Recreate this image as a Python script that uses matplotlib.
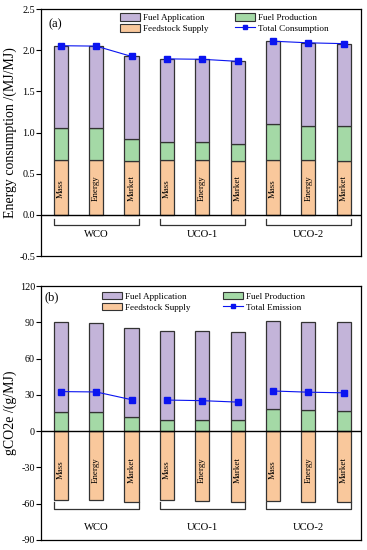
import numpy as np
import matplotlib
matplotlib.use('Agg')
import matplotlib.pyplot as plt
from matplotlib.patches import Patch
from matplotlib.lines import Line2D

plt.rcParams['font.family'] = ['Liberation Serif', 'DejaVu Serif']

groups = ['WCO', 'UCO-1', 'UCO-2']
methods = ['Mass', 'Energy', 'Market']

# (a) energy consumption, MJ/MJ
energy_feedstock = [0.665, 0.665, 0.65, 0.665, 0.665, 0.66, 0.665, 0.665, 0.66]
energy_production = [0.385, 0.385, 0.27, 0.225, 0.225, 0.205, 0.44, 0.42, 0.415]
energy_application = [1.005, 1.0, 1.005, 1.005, 1.0, 1.0, 1.005, 1.005, 1.005]

# (b) GHG emission, gCO2e/MJ
ghg_feedstock = [-57.3, -57.3, -59.0, -57.3, -57.8, -58.3, -57.8, -58.3, -58.3]
ghg_production = [16.2, 16.0, 11.8, 9.6, 9.4, 8.8, 17.9, 17.3, 16.5]
ghg_application = [73.8, 73.7, 73.2, 73.4, 73.6, 73.5, 73.1, 73.2, 73.5]

c_app = '#c3b4d9'
c_prod = '#a4d9a6'
c_feed = '#f9c89c'
edge = '#333333'
blue = '#0a14f0'

x = np.arange(1, 10)
w = 0.4

fig = plt.figure(figsize=(3.67, 5.5), dpi=100)
ax_a = fig.add_axes([0.1117, 0.5345, 0.872, 0.449])
ax_b = fig.add_axes([0.1117, 0.0182, 0.872, 0.4618])


def draw(ax, feed, prod, app, ylim, yticks, ylabel, tag, tag_pos, total_name,
         brk_y, brk_tick, lab_y, name_y, ticklabels, leg_pos, colsp):
    feed = np.array(feed)
    prod = np.array(prod)
    app = np.array(app)
    if feed[0] >= 0:
        ax.bar(x, feed, w, color=c_feed, edgecolor=edge, linewidth=0.9, zorder=2)
        ax.bar(x, prod, w, bottom=feed, color=c_prod, edgecolor=edge, linewidth=0.9, zorder=2)
        ax.bar(x, app, w, bottom=feed + prod, color=c_app, edgecolor=edge, linewidth=0.9, zorder=2)
    else:
        ax.bar(x, feed, w, color=c_feed, edgecolor=edge, linewidth=0.9, zorder=2)
        ax.bar(x, prod, w, color=c_prod, edgecolor=edge, linewidth=0.9, zorder=2)
        ax.bar(x, app, w, bottom=prod, color=c_app, edgecolor=edge, linewidth=0.9, zorder=2)
    total = feed + prod + app
    for g in range(3):
        s = slice(3 * g, 3 * g + 3)
        ax.plot(x[s], total[s], '-', color=blue, lw=0.8, marker='s',
                markersize=4.2, zorder=4)
    ax.axhline(0, color='black', lw=1.0, zorder=3)

    for i, xi in enumerate(x):
        ax.text(xi, lab_y, methods[i % 3], rotation=90, ha='center', va='center',
                fontsize=6.4, zorder=5)
    for g in range(3):
        x0 = x[3 * g] - w / 2
        x1 = x[3 * g + 2] + w / 2
        ax.plot([x0, x0, x1, x1], [brk_tick, brk_y, brk_y, brk_tick],
                color='#333333', lw=0.9, zorder=3)
        ax.text((x0 + x1) / 2, name_y, groups[g], ha='center', va='center',
                fontsize=7.7)

    ax.set_xlim(0.44, 9.49)
    ax.set_ylim(*ylim)
    ax.set_yticks(yticks)
    ax.set_yticklabels(ticklabels, fontsize=7.3)
    ax.set_xticks([])
    ax.tick_params(axis='y', direction='out', length=3.5, width=0.8, pad=0.8)
    for sp in ax.spines.values():
        sp.set_linewidth(0.9)
    ax.set_ylabel(ylabel, fontsize=10)
    ax.yaxis.set_label_coords(-0.075, 0.5)
    ax.text(tag_pos[0], tag_pos[1], tag, transform=ax.transAxes, fontsize=9,
            ha='left', va='center')

    handles = [Patch(facecolor=c_app, edgecolor=edge, linewidth=0.8),
               Patch(facecolor=c_feed, edgecolor=edge, linewidth=0.8),
               Patch(facecolor=c_prod, edgecolor=edge, linewidth=0.8),
               Line2D([0], [0], color=blue, lw=0.8, marker='s', markersize=3.5)]
    labels = ['Fuel Application', 'Feedstock Supply', 'Fuel Production', total_name]
    ax.legend(handles, labels, ncol=2, frameon=False, fontsize=6.6,
              loc='upper left', bbox_to_anchor=leg_pos,
              handlelength=2.2, handleheight=0.95, handletextpad=0.3,
              columnspacing=colsp, labelspacing=0.2, borderaxespad=0,
              borderpad=0)


draw(ax_a, energy_feedstock, energy_production, energy_application,
     (-0.5, 2.5), [-0.5, 0.0, 0.5, 1.0, 1.5, 2.0, 2.5],
     'Energy consumption /(MJ/MJ)', '(a)', (0.025, 0.94), 'Total Consumption',
     -0.124, -0.05, 0.32, -0.233,
     ['-0.5', '0.0', '0.5', '1.0', '1.5', '2.0', '2.5'], (0.247, 0.985), 2.9)

draw(ax_b, ghg_feedstock, ghg_production, ghg_application,
     (-90, 120), [-90, -60, -30, 0, 30, 60, 90, 120],
     'gCO2e /(g/MJ)', '(b)', (0.0125, 0.955), 'Total Emission',
     -64.7, -58.3, -32, -80,
     ['-90', '-60', '-30', '0', '30', '60', '90', '120'], (0.19, 0.978), 3.6)

fig.savefig('out.png', dpi=100)
